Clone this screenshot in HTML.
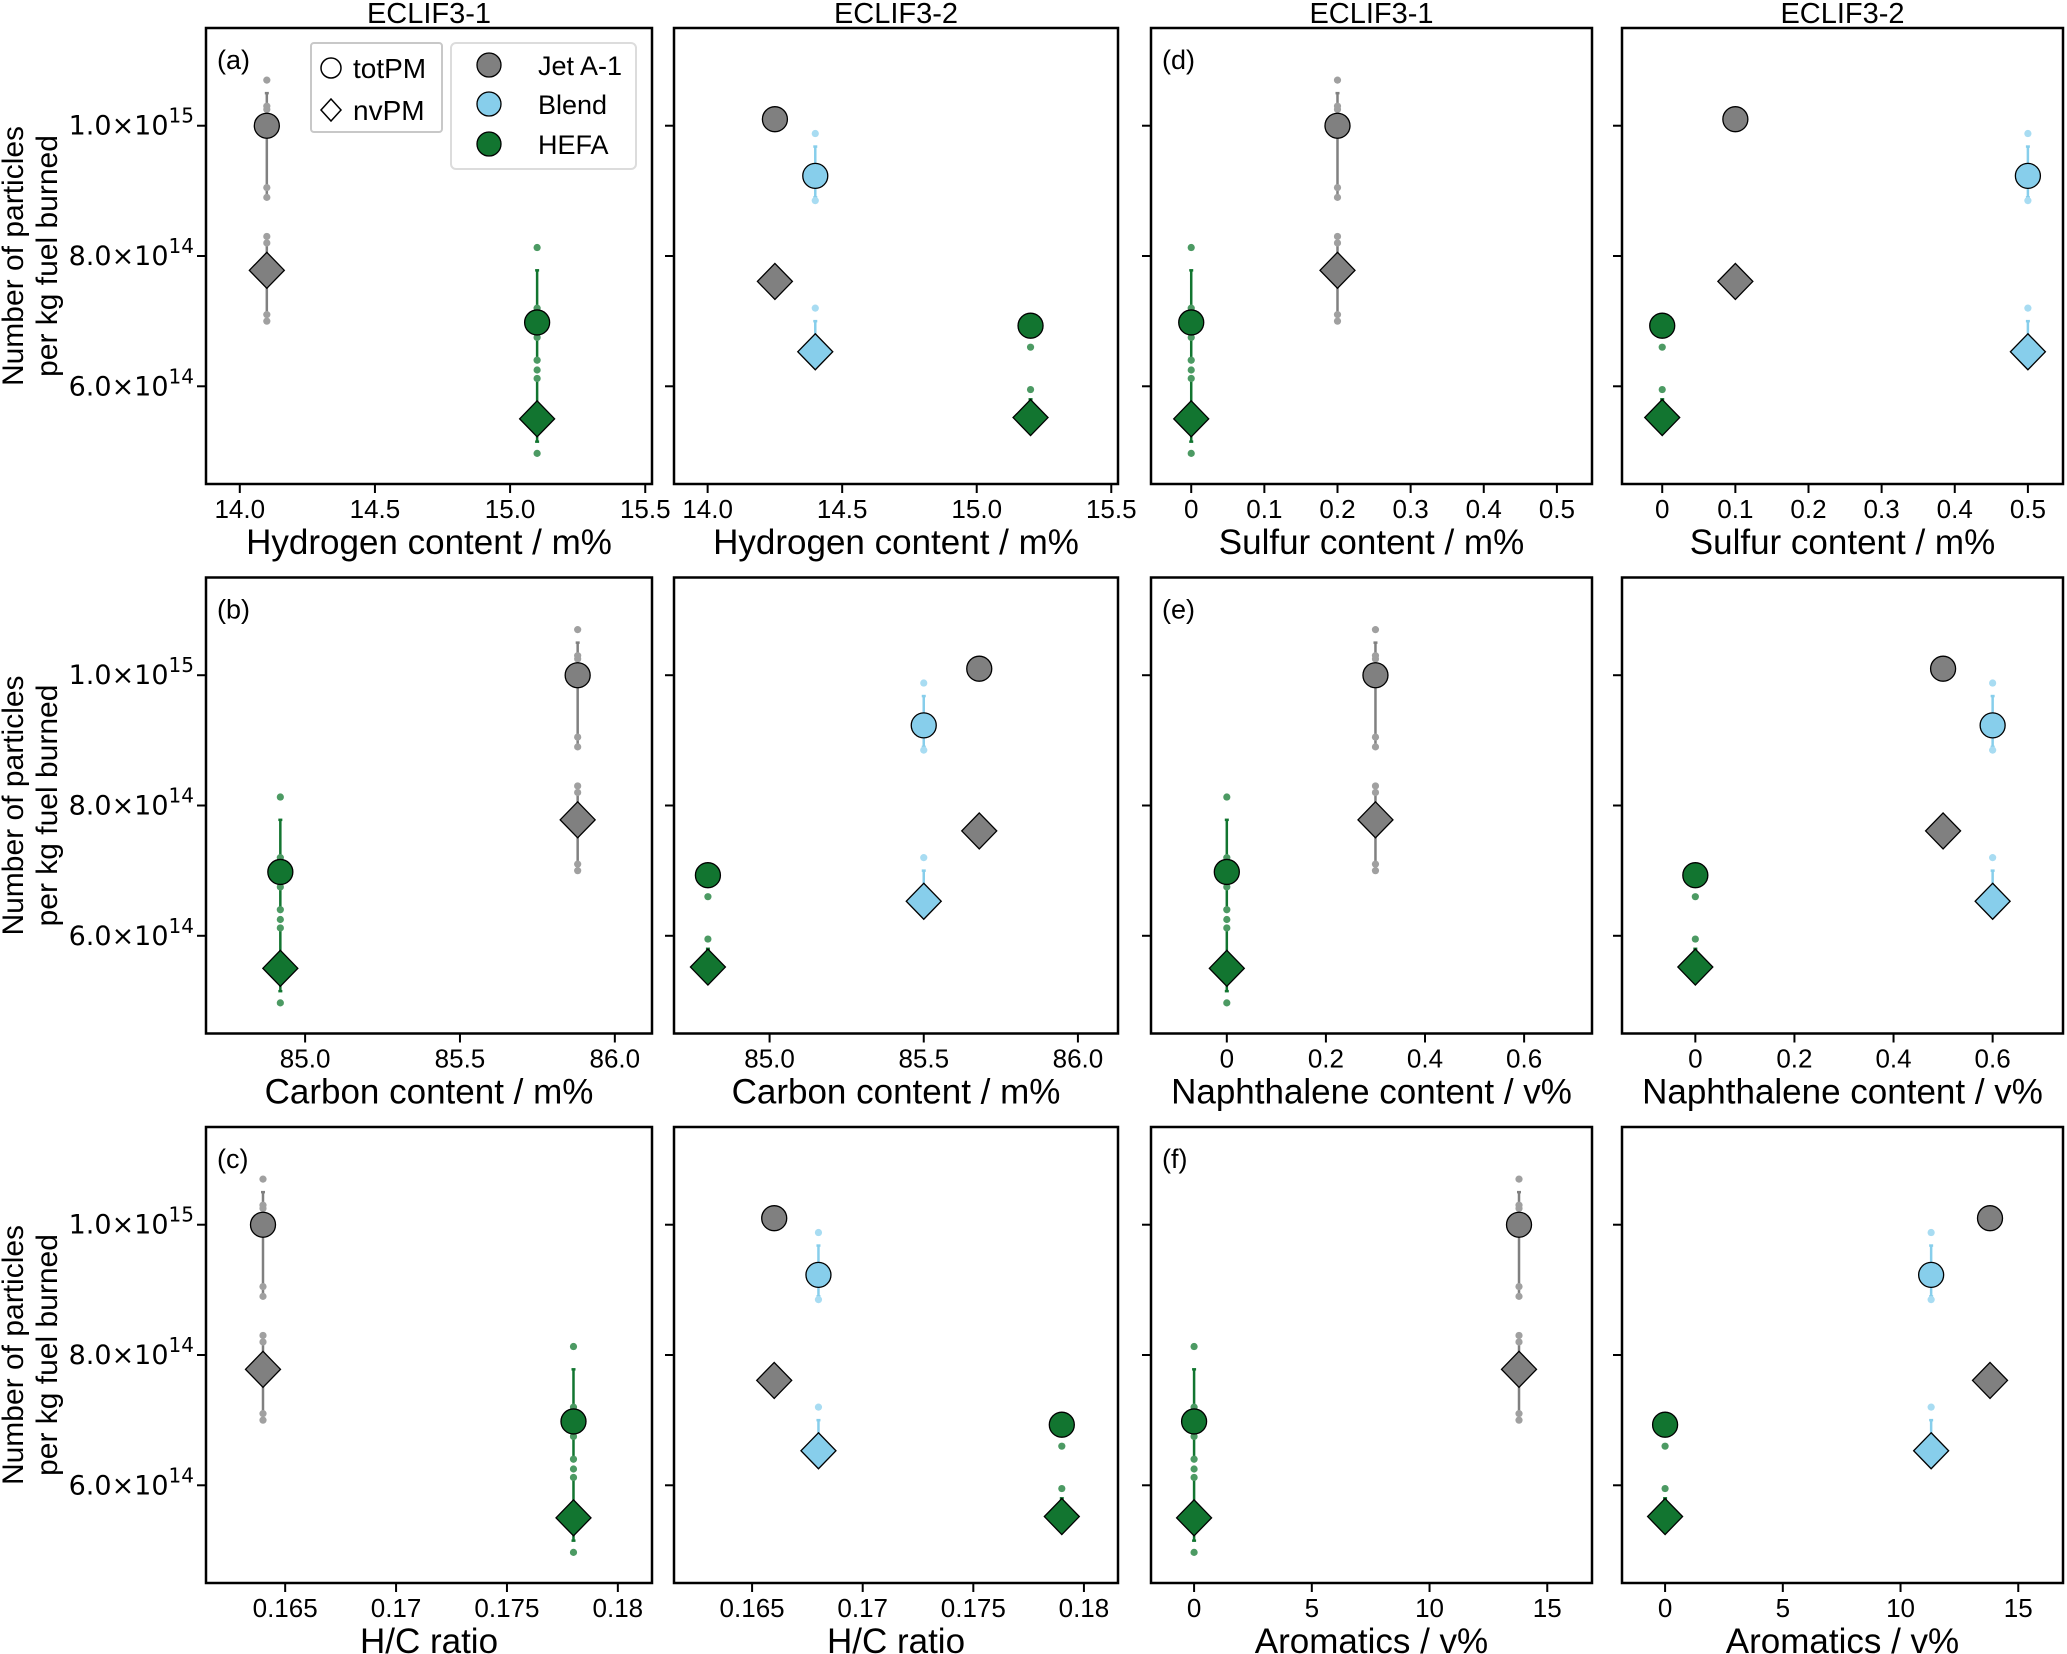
<!DOCTYPE html>
<html><head><meta charset="utf-8"><style>
html,body{margin:0;padding:0;background:#fff;}
svg{display:block;font-family:"Liberation Sans",sans-serif;}
</style></head><body>
<svg id="chart" width="2067" height="1654" viewBox="0 0 2067 1654" xmlns="http://www.w3.org/2000/svg"></svg>
<script>
// ---- data ----
const fuels = ["Jet A-1", "Blend", "HEFA"];
const totPM_E1 = [1.0e15, null, 6.98e14];
const nvPM_E1 = [7.78e14, null, 5.5e14];
const totPM_E2 = [1.01e15, 9.23e14, 6.93e14];
const nvPM_E2 = [7.61e14, 6.53e14, 5.52e14];
const totErr_E1 = [[8.9e14, 1.05e15], null, [6.4e14, 7.78e14]];
const nvErr_E1 = [[7.1e14, 8.2e14], null, [5.15e14, 6.12e14]];
const totErr_E2 = [null, [8.9e14, 9.68e14], [6.8e14, 7.03e14]];
const nvErr_E2 = [null, [6.5e14, 7.0e14], [5.5e14, 5.8e14]];
const totDots_E1 = [[1.07e15, 1.03e15, 1.025e15, 9.05e14, 8.9e14], [], [8.13e14, 7.2e14, 6.75e14, 6.4e14, 6.25e14]];
const nvDots_E1 = [[8.3e14, 8.2e14, 7.1e14, 7.0e14], [], [6.12e14, 4.97e14]];
const totDots_E2 = [[], [9.88e14, 8.85e14], [7.05e14, 6.6e14]];
const nvDots_E2 = [[], [7.2e14], [5.95e14]];
const hydrogen_E1 = [14.1, null, 15.1];
const hydrogen_E2 = [14.25, 14.4, 15.2];
const sulfur_E1 = [0.2, null, 0];
const sulfur_E2 = [0.1, 0.5, 0];
const carbon_E1 = [85.88, null, 84.92];
const carbon_E2 = [85.68, 85.5, 84.8];
const naph_E1 = [0.3, null, 0];
const naph_E2 = [0.5, 0.6, 0];
const hc_E1 = [0.164, null, 0.178];
const hc_E2 = [0.166, 0.168, 0.179];
const arom_E1 = [13.8, null, 0];
const arom_E2 = [13.8, 11.3, 0];
const yTicks = [6e14, 8e14, 1e15];
const yTickMant = ["6.0", "8.0", "1.0"];
const yTickExp = ["14", "14", "15"];
const hTicks = [14.0, 14.5, 15.0, 15.5];
const hTickLabels = ["14.0", "14.5", "15.0", "15.5"];
const sTicks = [0, 0.1, 0.2, 0.3, 0.4, 0.5];
const sTickLabels = ["0", "0.1", "0.2", "0.3", "0.4", "0.5"];
const cTicks = [85.0, 85.5, 86.0];
const cTickLabels = ["85.0", "85.5", "86.0"];
const nTicks = [0, 0.2, 0.4, 0.6];
const nTickLabels = ["0", "0.2", "0.4", "0.6"];
const hcTicks = [0.165, 0.17, 0.175, 0.18];
const hcTickLabels = ["0.165", "0.17", "0.175", "0.18"];
const aTicks = [0, 5, 10, 15];
const aTickLabels = ["0", "5", "10", "15"];

// ---- layout ----
const NS = "http://www.w3.org/2000/svg";
const svg = document.getElementById("chart");
const colors = ["#808080", "#87CEEB", "#127530"];
const dotColors = ["#a0a0a0", "#a8dcf2", "#4c9a63"];
const colX = [[206, 652], [674, 1118], [1151, 1592], [1622, 2063]];
const rowY = [28, 577.5, 1127];
const PH = 456;
const yMin = 4.5e14, yMax = 1.15e15;

function el(tag, attrs, parent) {
  const e = document.createElementNS(NS, tag);
  for (const k in attrs) e.setAttribute(k, attrs[k]);
  (parent || svg).appendChild(e);
  return e;
}
function yScale(row, v) { return rowY[row] + (yMax - v) / (yMax - yMin) * PH; }

const panels = [
  {r:0,c:0,xs:hydrogen_E1,e:1,lim:[13.875,15.525],t:hTicks,tl:hTickLabels,lab:"Hydrogen content / m%",tag:"(a)"},
  {r:0,c:1,xs:hydrogen_E2,e:2,lim:[13.875,15.525],t:hTicks,tl:hTickLabels,lab:"Hydrogen content / m%"},
  {r:0,c:2,xs:sulfur_E1,e:1,lim:[-0.055,0.548],t:sTicks,tl:sTickLabels,lab:"Sulfur content / m%",tag:"(d)"},
  {r:0,c:3,xs:sulfur_E2,e:2,lim:[-0.055,0.548],t:sTicks,tl:sTickLabels,lab:"Sulfur content / m%"},
  {r:1,c:0,xs:carbon_E1,e:1,lim:[84.68,86.12],t:cTicks,tl:cTickLabels,lab:"Carbon content / m%",tag:"(b)"},
  {r:1,c:1,xs:carbon_E2,e:2,lim:[84.69,86.13],t:cTicks,tl:cTickLabels,lab:"Carbon content / m%"},
  {r:1,c:2,xs:naph_E1,e:1,lim:[-0.153,0.737],t:nTicks,tl:nTickLabels,lab:"Naphthalene content / v%",tag:"(e)"},
  {r:1,c:3,xs:naph_E2,e:2,lim:[-0.148,0.742],t:nTicks,tl:nTickLabels,lab:"Naphthalene content / v%"},
  {r:2,c:0,xs:hc_E1,e:1,lim:[0.16143,0.18154],t:hcTicks,tl:hcTickLabels,lab:"H/C ratio",tag:"(c)"},
  {r:2,c:1,xs:hc_E2,e:2,lim:[0.16147,0.18154],t:hcTicks,tl:hcTickLabels,lab:"H/C ratio"},
  {r:2,c:2,xs:arom_E1,e:1,lim:[-1.83,16.9],t:aTicks,tl:aTickLabels,lab:"Aromatics / v%",tag:"(f)"},
  {r:2,c:3,xs:arom_E2,e:2,lim:[-1.83,16.9],t:aTicks,tl:aTickLabels,lab:"Aromatics / v%"}
];

["ECLIF3-1","ECLIF3-2","ECLIF3-1","ECLIF3-2"].forEach((t,i)=>{
  const tx = el("text",{x:(colX[i][0]+colX[i][1])/2,y:23,"text-anchor":"middle","font-size":29});
  tx.textContent = t;
  
  
});

panels.forEach(p=>{
  const [x0,x1] = colX[p.c];
  const y0 = rowY[p.r], y1 = y0 + PH;
  const xs = v => x0 + (v - p.lim[0]) / (p.lim[1] - p.lim[0]) * (x1 - x0);
  const g = el("g",{});
  
  
  yTicks.forEach((v,i)=>{
    const y = yScale(p.r, v);
    el("line",{x1:x0-9,x2:x0,y1:y,y2:y,stroke:"#000","stroke-width":2},g);
    if (p.c===0){
      const t = el("text",{x:194,y:y+9,"text-anchor":"end","font-size":27,"font-family":"'DejaVu Sans',sans-serif"},g);
      
      
      const a = el("tspan",{},t); a.textContent = yTickMant[i] + "\u00d710";
      const b = el("tspan",{dy:-12,"font-size":20},t); b.textContent = yTickExp[i];
    }
  });
  p.t.forEach((v,i)=>{
    const x = xs(v);
    el("line",{x1:x,x2:x,y1:y1,y2:y1+9,stroke:"#000","stroke-width":2},g);
    const t = el("text",{x:x,y:y1+34,"text-anchor":"middle","font-size":26},g);
    t.textContent = p.tl[i];
    
    
  });
  const xl = el("text",{x:(x0+x1)/2,y:y1+70,"text-anchor":"middle","font-size":35},g);
  xl.textContent = p.lab;
  
  
  if (p.c===0){
    const cy = (y0+y1)/2;
    const yl = el("text",{transform:`translate(23,${cy}) rotate(-90)`,"text-anchor":"middle","font-size":30},g);
    yl.textContent = p.r===0 ? "Number of particles" : "Number of  particles";
    
    
    const yl2 = el("text",{transform:`translate(57,${cy}) rotate(-90)`,"text-anchor":"middle","font-size":30},g);
    yl2.textContent = "per kg fuel burned";
    
    
  }
  if (p.tag){
    const t = el("text",{x:x0+11,y:y0+41,"font-size":27},g);
    t.textContent = p.tag;
    
    
  }
  const tot = p.e===1?totPM_E1:totPM_E2, nv = p.e===1?nvPM_E1:nvPM_E2;
  const te = p.e===1?totErr_E1:totErr_E2, ne = p.e===1?nvErr_E1:nvErr_E2;
  const td = p.e===1?totDots_E1:totDots_E2, nd = p.e===1?nvDots_E1:nvDots_E2;
  for (let f=0; f<fuels.length; f++){
    if (p.xs[f]===null || tot[f]===null) continue;
    const x = xs(p.xs[f]);
    [te[f], ne[f]].forEach(er=>{
      if (!er) return;
      const a = yScale(p.r, er[0]), b = yScale(p.r, er[1]);
      const ln = el("line",{x1:x,x2:x,y1:a,y2:b,stroke:colors[f],"stroke-width":2.5},g);
      
      
      el("line",{x1:x-2,x2:x+2,y1:a,y2:a,stroke:colors[f],"stroke-width":2.5},g);
      el("line",{x1:x-2,x2:x+2,y1:b,y2:b,stroke:colors[f],"stroke-width":2.5},g);
    });
    td[f].concat(nd[f]).forEach(v=>{
      const d = el("circle",{cx:x,cy:yScale(p.r,v),r:3.6,fill:dotColors[f]},g);
      
      
    });
    const yn = yScale(p.r, nv[f]);
    const dm = el("path",{d:`M${x} ${yn-18}L${x+17.5} ${yn}L${x} ${yn+18}L${x-17.5} ${yn}Z`,fill:colors[f],stroke:"#000","stroke-width":1.3},g);
    
    
    const c = el("circle",{cx:x,cy:yScale(p.r,tot[f]),r:12.5,fill:colors[f],stroke:"#000","stroke-width":1.3},g);
    
    
  }
  const fr = el("rect",{x:x0,y:y0,width:x1-x0,height:PH,fill:"none",stroke:"#000","stroke-width":2.5},g);
  
  
});

const lg1 = el("g",{});


el("rect",{x:311,y:43,width:131,height:89,fill:"#fff",stroke:"#c8c8c8","stroke-width":2,rx:3},lg1);
el("circle",{cx:331,cy:68,r:10,fill:"#fff",stroke:"#000","stroke-width":1.5},lg1);
el("path",{d:"M331 99L341 110L331 121L321 110Z",fill:"#fff",stroke:"#000","stroke-width":1.5},lg1);
const l1 = el("text",{x:353,y:78,"font-size":28},lg1); l1.textContent="totPM";
const l2 = el("text",{x:353,y:120,"font-size":28},lg1); l2.textContent="nvPM";

const lg2 = el("g",{});


el("rect",{x:451,y:43,width:185,height:126,fill:"#fff",stroke:"#dcdcdc","stroke-width":2,rx:5},lg2);
fuels.forEach((f,i)=>{
  const cy = [65,104,144][i];
  el("circle",{cx:489,cy:cy,r:12,fill:colors[i],stroke:"#000","stroke-width":1.3},lg2);
  const t = el("text",{x:538,y:cy+10,"font-size":27},lg2);
  t.textContent = f;
  
  
});
</script>
</body></html>
